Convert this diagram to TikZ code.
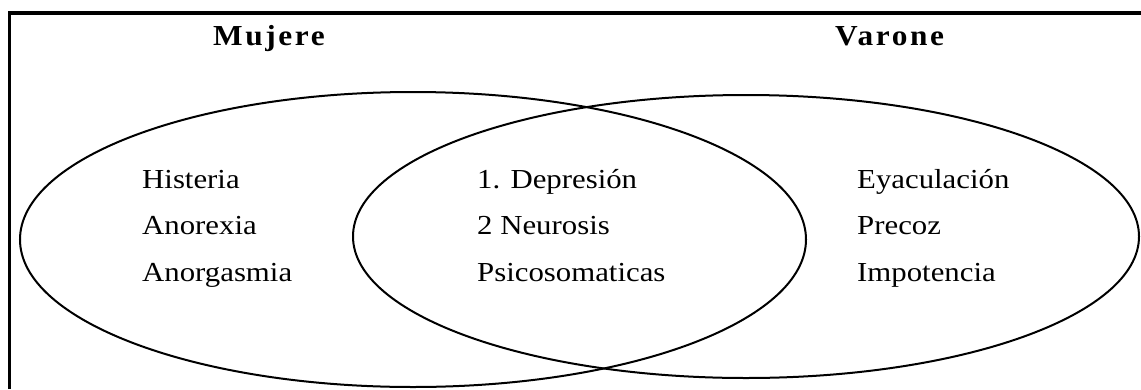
\documentclass[tikz,border=0pt]{standalone}
\usepackage{fontspec}
\setmainfont{Liberation Serif}[FakeStretch=1.12]
\newfontfamily\titlefont{Liberation Serif}[FakeStretch=1.08,LetterSpace=9]
\begin{document}
\begin{tikzpicture}[x=1pt,y=-1pt,
  frame/.style={line width=3.5pt},
  venn/.style={line width=2pt},
  body/.style={font=\fontsize{27.5}{33}\selectfont, inner sep=0pt, anchor=base west},
  title/.style={font=\titlefont\bfseries\fontsize{29}{34}\selectfont, inner sep=0pt, anchor=base west}]
\useasboundingbox (0,0) rectangle (1141,389);
\draw[frame] (9.3,389) -- (9.3,13) -- (1141,13);
\draw[venn] (413,239.5) ellipse [x radius=393, y radius=147.5];
\draw[venn] (746,236.5) ellipse [x radius=393, y radius=141.5];
\node[title] (tm) at (213,45) {Mujere};
\node[title] (tv) at (835,45) {Varone};
\node[body] (l1) at (142,188) {Histeria};
\node[body] (l2) at (142,234) {Anorexia};
\node[body] (l3) at (142,281) {Anorgasmia};
\node[body] (c1) at (477,188) {1. Depresión};
\node[body] (c2) at (477,234) {2 Neurosis};
\node[body] (c3) at (477,281) {Psicosomaticas};
\node[body] (r1) at (857,188) {Eyaculación};
\node[body] (r2) at (857,234) {Precoz};
\node[body] (r3) at (857,281) {Impotencia};
\end{tikzpicture}
\end{document}
